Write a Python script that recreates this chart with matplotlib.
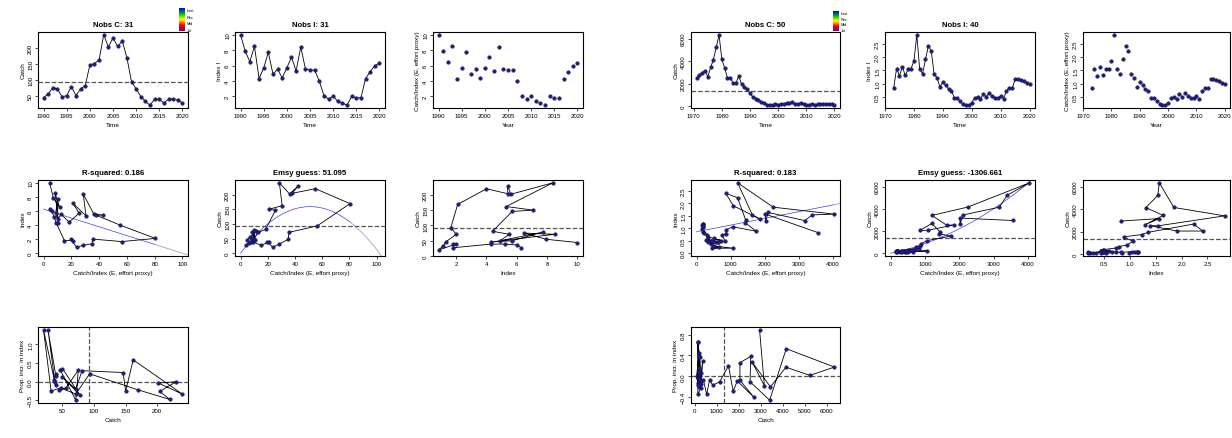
import numpy as np
import matplotlib
matplotlib.use("Agg")
import matplotlib.pyplot as plt
from matplotlib.colors import LinearSegmentedColormap

plt.rcParams['font.family'] = ['Liberation Sans', 'DejaVu Sans']

# ---- stock A (left block) ----
years_a = np.arange(1990, 2021)
catch_a = [44, 55, 75, 71, 46, 50, 78, 50, 71, 81,
           146, 150, 162, 240, 202, 230, 204, 220, 169, 93,
           71, 47, 32, 20, 39, 38, 27, 39, 39, 36, 27]
index_a = [10.0, 7.9, 6.5, 8.5, 4.3, 5.7, 7.7, 4.9, 5.5, 4.4,
           5.7, 7.1, 5.3, 8.4, 5.6, 5.4, 5.4, 4.0, 2.1, 1.65,
           2.0, 1.34, 1.12, 0.84, 2.0, 1.8, 1.8, 4.3, 5.2, 6.0, 6.3]
titles_a = ["Nobs C: 31", "Nobs I: 31", "R-squared: 0.186", "Emsy guess: 51.095"]
# fitted lines: index = icpt + slope*E ; catch = a*E + b*E^2
lin_fit_a = (6.25, -0.0625)
quad_fit_a = (6.22, -0.0609)

# ---- stock B (right block) ----
years_b_catch = np.arange(1971, 2021)
catch_b = [2523, 2770, 2950, 3170, 2615, 3446, 4150, 5230, 6350, 4160,
           3410, 2520, 2550, 2060, 2060, 2680, 1940, 1750, 1540, 1140,
           830, 680, 550, 400, 280, 150, 150, 90, 215, 150,
           185, 215, 245, 300, 370, 215, 185, 280, 215, 150,
           150, 215, 150, 185, 215, 215, 185, 215, 185, 150]
years_b_index = np.arange(1973, 2021)
index_b = [0.83, 1.57, 1.29, 1.64, 1.31, 1.54, 1.57, 1.85, 2.83, 1.54,
           1.38, 1.91, 2.41, 2.23, 1.35, 1.23, 0.88, 1.06, 0.95, 0.79,
           0.73, 0.48, 0.45, 0.35, 0.23, 0.20, 0.20, 0.29, 0.48, 0.51,
           0.44, 0.60, 0.51, 0.66, 0.53, 0.45, 0.48, 0.53, 0.44, 0.73,
           0.85, 0.83, 1.16, 1.16, 1.14, 1.10, 1.04, 0.98]
titles_b = ["Nobs C: 50", "Nobs I: 40", "R-squared: 0.183", "Emsy guess: -1306.661"]
lin_fit_b = (0.86, 0.00027)
quad_fit_b = (0.622, 0.000238)

legend_labels = ["Last", "Rec", "Mid", "1st"]

W, H = 1232, 439
PT = '#1c1c8e'
FIT = '#3a3aff'
FIT2 = '#a0a0c8'
MEAN = '#555555'


def rect(x0, x1, y0, y1):
    return [x0 / W, 1 - y1 / H, (x1 - x0) / W, (y1 - y0) / H]


def pad(ax, xr=None, yr=None):
    # R style 4% extension
    if xr is not None:
        d = (xr[1] - xr[0]) * 0.04
        ax.set_xlim(xr[0] - d, xr[1] + d)
    if yr is not None:
        d = (yr[1] - yr[0]) * 0.04
        ax.set_ylim(yr[0] - d, yr[1] + d)


def style(ax, xticks, yticks, xlabel, ylabel, title=None):
    ax.set_xticks(xticks)
    ax.set_yticks(yticks)
    ax.tick_params(labelsize=4.4, length=2, width=0.5, pad=1.5)
    ax.tick_params(axis='y', labelrotation=90)
    for lab in ax.get_yticklabels():
        lab.set_verticalalignment('center')
    for s in ax.spines.values():
        s.set_linewidth(0.8)
    ax.set_xlabel(xlabel, fontsize=4.6, labelpad=3)
    ax.set_ylabel(ylabel, fontsize=4.6, labelpad=2)
    if title:
        ax.set_title(title, fontsize=5.6, fontweight='bold', pad=4)


def dots(ax, x, y, line=True):
    if line:
        ax.plot(x, y, color='black', lw=0.6, zorder=2)
    ax.plot(x, y, 'o', ms=2.6, mfc=PT, mec='#111133', mew=0.3, zorder=3)


def two_tone(ax, xs, ys, xmax):
    ax.plot(xs[xs <= xmax], ys[xs <= xmax], color=FIT, lw=0.5, zorder=1)
    ax.plot(xs[xs >= xmax], ys[xs >= xmax], color=FIT2, lw=0.6, zorder=1)


def block(cols, ycat, cat, yidx, idx, titles, lin_fit, quad_fit, ticks, legend_box):
    cat = np.asarray(cat, float)
    idx = np.asarray(idx, float)
    ycat = np.asarray(ycat)
    yidx = np.asarray(yidx)
    mc = cat.mean()
    # paired years
    C = cat[np.isin(ycat, yidx)]
    I = idx[np.isin(yidx, ycat)]
    E = C / I
    rows = [(33, 109), (181, 257), (328, 404)]

    # row 1: catch
    ax = fig.add_axes(rect(*cols[0], *rows[0]))
    dots(ax, ycat, cat)
    ax.axhline(mc, color=MEAN, ls='--', lw=0.9)
    pad(ax, (ycat.min(), ycat.max()), (cat.min(), cat.max()))
    style(ax, ticks['yr'], ticks['c'], 'Time', 'Catch', titles[0])

    # colour legend above the first panel
    lx0, lx1, ly0, ly1 = legend_box
    lax = fig.add_axes(rect(lx0, lx1, ly0, ly1))
    cmap = LinearSegmentedColormap.from_list('yr', ['#0000ff', '#00c000', '#ffff00', '#ff0000', '#7a007a'])
    lax.imshow(np.linspace(0, 1, 50)[:, None], aspect='auto', cmap=cmap)
    lax.set_axis_off()
    for k, lab in enumerate(legend_labels):
        fig.text((lx1 + 2) / W, 1 - (ly0 + 2 + k * (ly1 - ly0 - 3) / 3) / H, lab,
                 fontsize=2.8, va='center', ha='left')

    # row 1: index
    ax = fig.add_axes(rect(*cols[1], *rows[0]))
    dots(ax, yidx, idx)
    pad(ax, (yidx.min(), yidx.max()), (idx.min(), idx.max()))
    style(ax, ticks['yr'], ticks['i'], 'Time', 'Index I', titles[1])

    # row 1: effort proxy panel
    ax = fig.add_axes(rect(*cols[2], *rows[0]))
    dots(ax, yidx, idx, line=False)
    pad(ax, (yidx.min(), yidx.max()), (idx.min(), idx.max()))
    style(ax, ticks['yr'], ticks['i'], 'Year', 'Catch/Index (E, effort proxy)')

    # row 2: index vs E with linear fit
    icpt, slope = lin_fit
    xint = -icpt / slope if slope < 0 else E.max()
    xr = (0, max(E.max(), xint))
    ax = fig.add_axes(rect(*cols[0], *rows[1]))
    xs = np.linspace(0, xr[1] * 1.05, 300)
    two_tone(ax, xs, icpt + slope * xs, E.max())
    dots(ax, E, I)
    pad(ax, xr, (0, I.max()))
    style(ax, ticks['e'], ticks['i2'], 'Catch/Index (E, effort proxy)', 'Index', titles[2])

    # row 2: catch vs E with quadratic through origin
    a, b = quad_fit
    emsy = -a / (2 * b)
    xr = (0, max(E.max(), 2 * emsy))
    ax = fig.add_axes(rect(*cols[1], *rows[1]))
    xs = np.linspace(0, xr[1] * 1.05, 300)
    two_tone(ax, xs, a * xs + b * xs ** 2, E.max())
    ax.axhline(mc, color=MEAN, ls='--', lw=0.9)
    dots(ax, E, C)
    pad(ax, xr, (0, C.max()))
    style(ax, ticks['e'], ticks['c0'], 'Catch/Index (E, effort proxy)', 'Catch', titles[3])

    # row 2: catch vs index
    ax = fig.add_axes(rect(*cols[2], *rows[1]))
    ax.axhline(mc, color=MEAN, ls='--', lw=0.9)
    dots(ax, I, C)
    pad(ax, (I.min(), I.max()), (C.min(), C.max()))
    style(ax, ticks['i3'], ticks['c0'], 'Index', 'Catch')

    # row 3: proportional increase in index vs catch
    inc = I[1:] / I[:-1] - 1
    cc = C[:-1]
    ax = fig.add_axes(rect(*cols[0], *rows[2]))
    ax.axhline(0, color=MEAN, ls='--', lw=0.9)
    ax.axvline(mc, color=MEAN, ls='--', lw=0.9)
    dots(ax, cc, inc)
    pad(ax, (cc.min(), cc.max()), (inc.min(), inc.max()))
    style(ax, ticks['c3'], ticks['p'], 'Catch', 'Prop. incr. in index')


fig = plt.figure(figsize=(W / 100, H / 100), dpi=100)

block([(38, 188), (235, 385), (433, 583)],
      years_a, catch_a, years_a, index_a, titles_a, lin_fit_a, quad_fit_a,
      dict(yr=range(1990, 2021, 5), c=[50, 100, 150, 200], i=[2, 4, 6, 8, 10],
           e=range(0, 101, 20), i2=range(0, 11, 2), c0=[0, 50, 100, 150, 200],
           i3=[2, 4, 6, 8, 10], c3=[50, 100, 150, 200], p=[-0.5, 0, 0.5, 1.0]),
      (179, 185, 9, 32))

block([(691, 840), (885, 1035), (1083, 1230)],
      years_b_catch, catch_b, years_b_index, index_b, titles_b, lin_fit_b, quad_fit_b,
      dict(yr=range(1970, 2021, 10), c=[0, 2000, 4000, 6000], i=[0.5, 1.0, 1.5, 2.0, 2.5],
           e=range(0, 4001, 1000), i2=[0, 0.5, 1.0, 1.5, 2.0, 2.5], c0=[0, 2000, 4000, 6000],
           i3=[0.5, 1.0, 1.5, 2.0, 2.5], c3=range(0, 6001, 1000), p=[-0.4, 0, 0.4, 0.8]),
      (833, 839, 12, 32))

fig.savefig('out.png', dpi=100)
